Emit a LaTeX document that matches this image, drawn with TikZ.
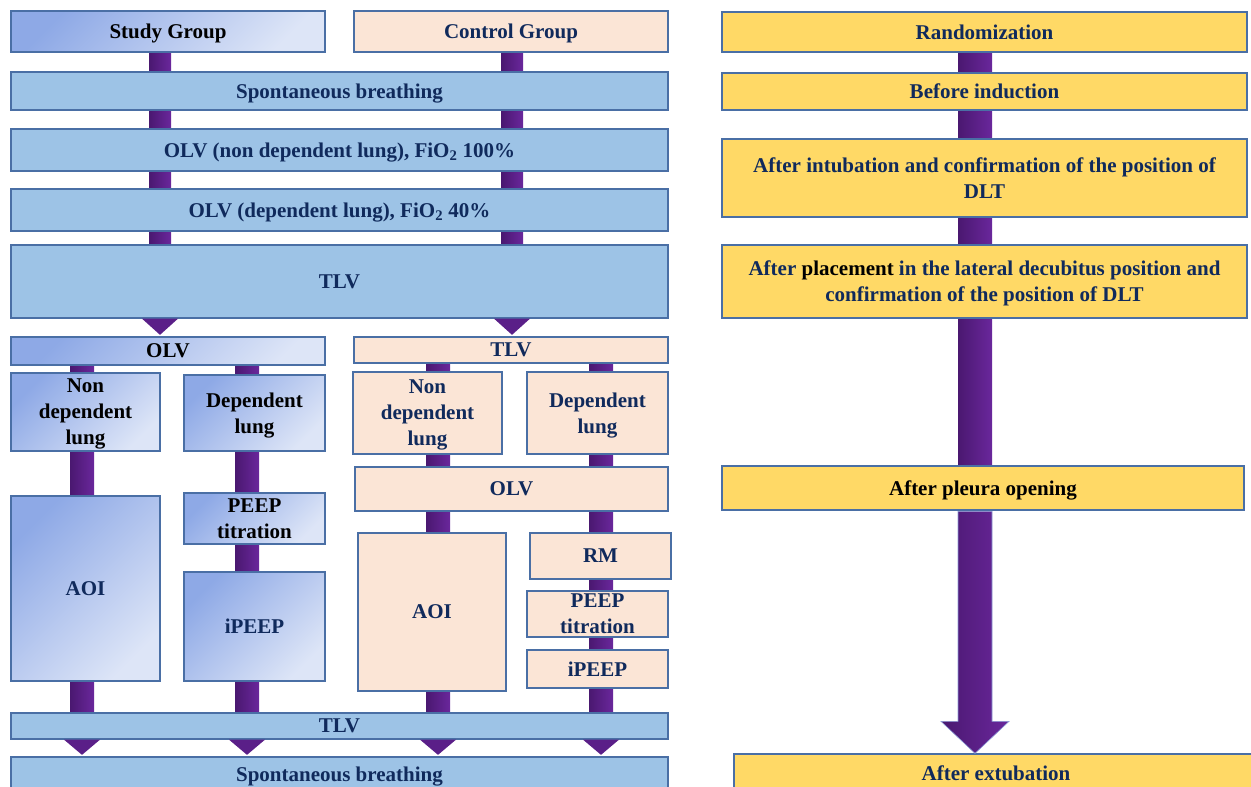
\documentclass[tikz,border=0pt]{standalone}
\usepackage{fontspec}
\setmainfont{Liberation Serif}
\usetikzlibrary{calc,backgrounds}
\definecolor{bordc}{HTML}{4A6FA5}
\definecolor{blueF}{HTML}{9DC3E6}
\definecolor{peachF}{HTML}{FBE5D6}
\definecolor{yelF}{HTML}{FFD966}
\definecolor{sgA}{HTML}{8EA9E6}
\definecolor{sgB}{HTML}{DDE5F7}
\definecolor{navy}{HTML}{102A5C}
\definecolor{pL}{HTML}{4A1870}
\definecolor{pR}{HTML}{6A279C}
\definecolor{pM}{HTML}{5A1F88}
\definecolor{arrowedge}{HTML}{8C9BD6}
\tikzset{
  box/.style={draw=bordc, line width=1.3pt, inner sep=2pt, align=center,
    font=\bfseries\fontsize{21}{26}\selectfont, text=navy, text depth=0pt},
  bluebox/.style={box, fill=blueF},
  peachbox/.style={box, fill=peachF},
  yelbox/.style={box, fill=yelF},
  studybox/.style={box, top color=sgA, bottom color=sgB, shading angle=45},
  barshade/.style={left color=pL, right color=pR},
  tri/.style={fill=pM},
}
\newcommand{\vbar}[4]{% from node, to node, column coordinate, half width
  \shade[barshade] ($(#1.south -| #3)+(-#4,0)$) rectangle ($(#2.north -| #3)+(#4,0)$);}
\newcommand{\tridown}[3]{% from node, to node, column
  \fill[tri] ($(#1.south -| #3)+(-18,0)$) -- ($(#1.south -| #3)+(18,0)$) -- ($(#2.north -| #3)+(0,-1.5)$) -- cycle;}
\begin{document}
\begin{tikzpicture}[x=1pt,y=-1pt]
\useasboundingbox (0,0) rectangle (1251,787);
% columns
\coordinate (colA) at (160,0);
\coordinate (colB) at (512,0);
\coordinate (colC) at (82,0);
\coordinate (colD) at (247,0);
\coordinate (colE) at (438,0);
\coordinate (colF) at (601,0);
\coordinate (colR) at (975,0);
% left: top part
\node[studybox, text=black, minimum width=314pt, minimum height=41pt] (sg) at (168,31.5) {Study Group};
\node[peachbox, minimum width=314pt, minimum height=41pt] (cg) at (511,31.5) {Control Group};
\node[bluebox, minimum width=657pt, minimum height=38pt] (sb1) at (339.5,91) {Spontaneous breathing};
\node[bluebox, minimum width=657pt, minimum height=42pt] (olv1) at (339.5,150) {OLV (non dependent lung), FiO\textsubscript{2} 100\%};
\node[bluebox, minimum width=657pt, minimum height=42pt] (olv2) at (339.5,210) {OLV (dependent lung), FiO\textsubscript{2} 40\%};
\node[bluebox, minimum width=657pt, minimum height=73pt] (tlv1) at (339.5,281.5) {TLV};
% study branch
\node[studybox, text=black, minimum width=314pt, minimum height=28pt] (olvS) at (168,351) {OLV};
\node[studybox, text=black, minimum width=149pt, minimum height=78pt] (ndS) at (85.5,412) {Non\\dependent\\lung};
\node[studybox, text=black, minimum width=141pt, minimum height=76pt] (dS) at (254.5,413) {Dependent\\lung};
\node[studybox, minimum width=149pt, minimum height=185pt] (aoiS) at (85.5,588.5) {AOI};
\node[studybox, text=black, minimum width=141pt, minimum height=51pt] (peepS) at (254.5,518.5) {PEEP\\titration};
\node[studybox, minimum width=141pt, minimum height=109pt] (ipeepS) at (254.5,626.5) {iPEEP};
% control branch
\node[peachbox, minimum width=314pt, minimum height=26pt] (tlvC) at (511,350) {TLV};
\node[peachbox, minimum width=149pt, minimum height=82pt] (ndC) at (427.5,413) {Non\\dependent\\lung};
\node[peachbox, minimum width=141pt, minimum height=82pt] (dC) at (597.5,413) {Dependent\\lung};
\node[peachbox, minimum width=313pt, minimum height=44pt] (olvC) at (511.5,489) {OLV};
\node[peachbox, minimum width=148pt, minimum height=158pt] (aoiC) at (432,612) {AOI};
\node[peachbox, minimum width=141pt, minimum height=46pt] (rmC) at (600.5,556) {RM};
\node[peachbox, minimum width=141pt, minimum height=46pt] (peepC) at (597.5,614) {PEEP\\titration};
\node[peachbox, minimum width=141pt, minimum height=38pt] (ipeepC) at (597.5,669) {iPEEP};
% bottom
\node[bluebox, minimum width=657pt, minimum height=26pt] (tlv2) at (339.5,726) {TLV};
\node[bluebox, minimum width=657pt, minimum height=34pt] (sb2) at (339.5,774) {Spontaneous breathing};
% right column
\node[yelbox, minimum width=525pt, minimum height=40pt] (rand) at (984.5,32) {Randomization};
\node[yelbox, minimum width=525pt, minimum height=37pt] (bi) at (984.5,91.5) {Before induction};
\node[yelbox, minimum width=525pt, minimum height=78pt] (ai) at (984.5,178) {After intubation and confirmation of the position of\\DLT};
\node[yelbox, minimum width=525pt, minimum height=73pt] (ap) at (984.5,281.5) {After {\color{black}placement} in the lateral decubitus position and\\confirmation of the position of DLT};
\node[yelbox, text=black, minimum width=522pt, minimum height=44pt] (apo) at (983,488) {After pleura opening};
\node[yelbox, minimum width=524pt, minimum height=38pt] (ae) at (996,773) {After extubation};

\begin{scope}[on background layer]
% top bars
\vbar{sg}{sb1}{colA}{11}
\vbar{sb1}{olv1}{colA}{11}
\vbar{olv1}{olv2}{colA}{11}
\vbar{olv2}{tlv1}{colA}{11}
\vbar{cg}{sb1}{colB}{11}
\vbar{sb1}{olv1}{colB}{11}
\vbar{olv1}{olv2}{colB}{11}
\vbar{olv2}{tlv1}{colB}{11}
% study bars
\vbar{olvS}{ndS}{colC}{12}
\vbar{ndS}{aoiS}{colC}{12}
\vbar{aoiS}{tlv2}{colC}{12}
\vbar{olvS}{dS}{colD}{12}
\vbar{dS}{peepS}{colD}{12}
\vbar{peepS}{ipeepS}{colD}{12}
\vbar{ipeepS}{tlv2}{colD}{12}
% control bars
\vbar{tlvC}{ndC}{colE}{12}
\vbar{ndC}{olvC}{colE}{12}
\vbar{olvC}{aoiC}{colE}{12}
\vbar{aoiC}{tlv2}{colE}{12}
\vbar{tlvC}{dC}{colF}{12}
\vbar{dC}{olvC}{colF}{12}
\vbar{olvC}{rmC}{colF}{12}
\vbar{rmC}{peepC}{colF}{12}
\vbar{peepC}{ipeepC}{colF}{12}
\vbar{ipeepC}{tlv2}{colF}{12}
% right column bars
\vbar{rand}{bi}{colR}{17}
\vbar{bi}{ai}{colR}{17}
\vbar{ai}{ap}{colR}{17}
\vbar{ap}{apo}{colR}{17}
\end{scope}
% triangles
\tridown{tlv1}{olvS}{colA}
\tridown{tlv1}{tlvC}{colB}
\tridown{tlv2}{sb2}{colC}
\tridown{tlv2}{sb2}{colD}
\tridown{tlv2}{sb2}{colE}
\tridown{tlv2}{sb2}{colF}
% big arrow
\coordinate (hb) at ($(ae.north -| colR)+(0,-32)$);
\path[shade, left color=pL, right color=pR, draw=arrowedge, line width=0.6pt]
  ($(apo.south -| colR)+(-17,0.7)$) -- ($(hb)+(-17,0)$) -- ($(hb)+(-34,0)$) -- (ae.north -| colR)
  -- ($(hb)+(34,0)$) -- ($(hb)+(17,0)$) -- ($(apo.south -| colR)+(17,0.7)$) -- cycle;
\end{tikzpicture}
\end{document}
